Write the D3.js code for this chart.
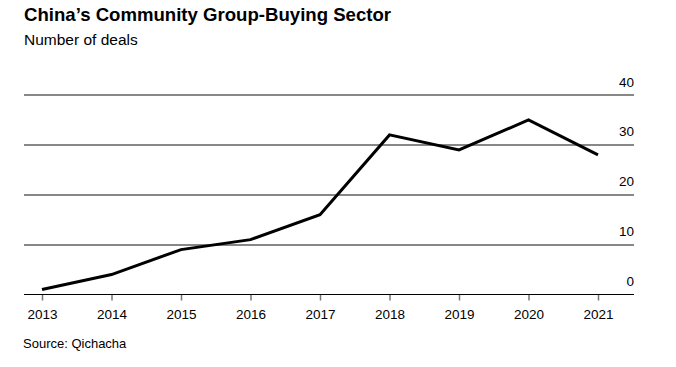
<!DOCTYPE html>
<html>
<head>
<meta charset="utf-8">
<script src="https://cdn.jsdelivr.net/npm/d3@7"></script>
<style>
  body { margin: 0; background: #fff; }
  svg { display: block; font-family: "Liberation Sans", Arial, Helvetica, sans-serif; }
</style>
</head>
<body>
<svg id="chart" width="676" height="367"></svg>
<script>
const years = ["2013","2014","2015","2016","2017","2018","2019","2020","2021"];
const deals = [1, 4, 9, 11, 16, 32, 29, 35, 28];
const yTicks = [0, 10, 20, 30, 40];

(function () {
const svg = d3.select("#chart");
const gLeft = 24, gRight = 634, gTop = 95, gBottom = 294.5;
const plotL = 42, plotR = 598;

const x = d3.scalePoint().domain(years).range([plotL, plotR]);
const y = d3.scaleLinear().domain([0, 40]).range([gBottom, gTop]);

svg.append("text").attr("x", 24).attr("y", 21)
  .attr("font-size", 18.6).attr("font-weight", "bold").attr("fill", "#000")
  .text("China’s Community Group-Buying Sector");
svg.append("text").attr("x", 24).attr("y", 45)
  .attr("font-size", 15.5).attr("fill", "#000")
  .text("Number of deals");

// gridlines
svg.append("g").selectAll("line").data(yTicks.filter(d => d > 0)).join("line")
  .attr("x1", gLeft).attr("x2", gRight)
  .attr("y1", d => Math.round(y(d))).attr("y2", d => Math.round(y(d)))
  .attr("stroke", "#878787").attr("stroke-width", 2);

// y labels
svg.append("g").selectAll("text").data(yTicks).join("text")
  .attr("x", gRight).attr("y", d => y(d) - 8.5)
  .attr("text-anchor", "end").attr("font-size", 13.5).attr("fill", "#000")
  .text(d => d);

// x axis
const xAxis = d3.axisBottom(x).tickSize(6).tickPadding(9);
const gx = svg.append("g").attr("transform", `translate(0,${gBottom})`).call(xAxis);
gx.select(".domain").remove();
gx.selectAll(".tick line").attr("stroke", "#777").attr("stroke-width", 1.5);
gx.selectAll(".tick text").attr("font-size", 13.5).attr("fill", "#000")
  .attr("font-family", "Liberation Sans, Arial, sans-serif");
svg.append("line").attr("x1", gLeft).attr("x2", gRight)
  .attr("y1", gBottom).attr("y2", gBottom).attr("stroke", "#000").attr("stroke-width", 1.2);

// line
const line = d3.line().x((d, i) => x(years[i])).y(d => y(d));
svg.append("path").datum(deals).attr("d", line)
  .attr("fill", "none").attr("stroke", "#000").attr("stroke-width", 3)
  .attr("stroke-linejoin", "miter");

svg.append("text").attr("x", 23).attr("y", 348)
  .attr("font-size", 13).attr("fill", "#000")
  .text("Source: Qichacha");
})();
</script>
</body>
</html>
